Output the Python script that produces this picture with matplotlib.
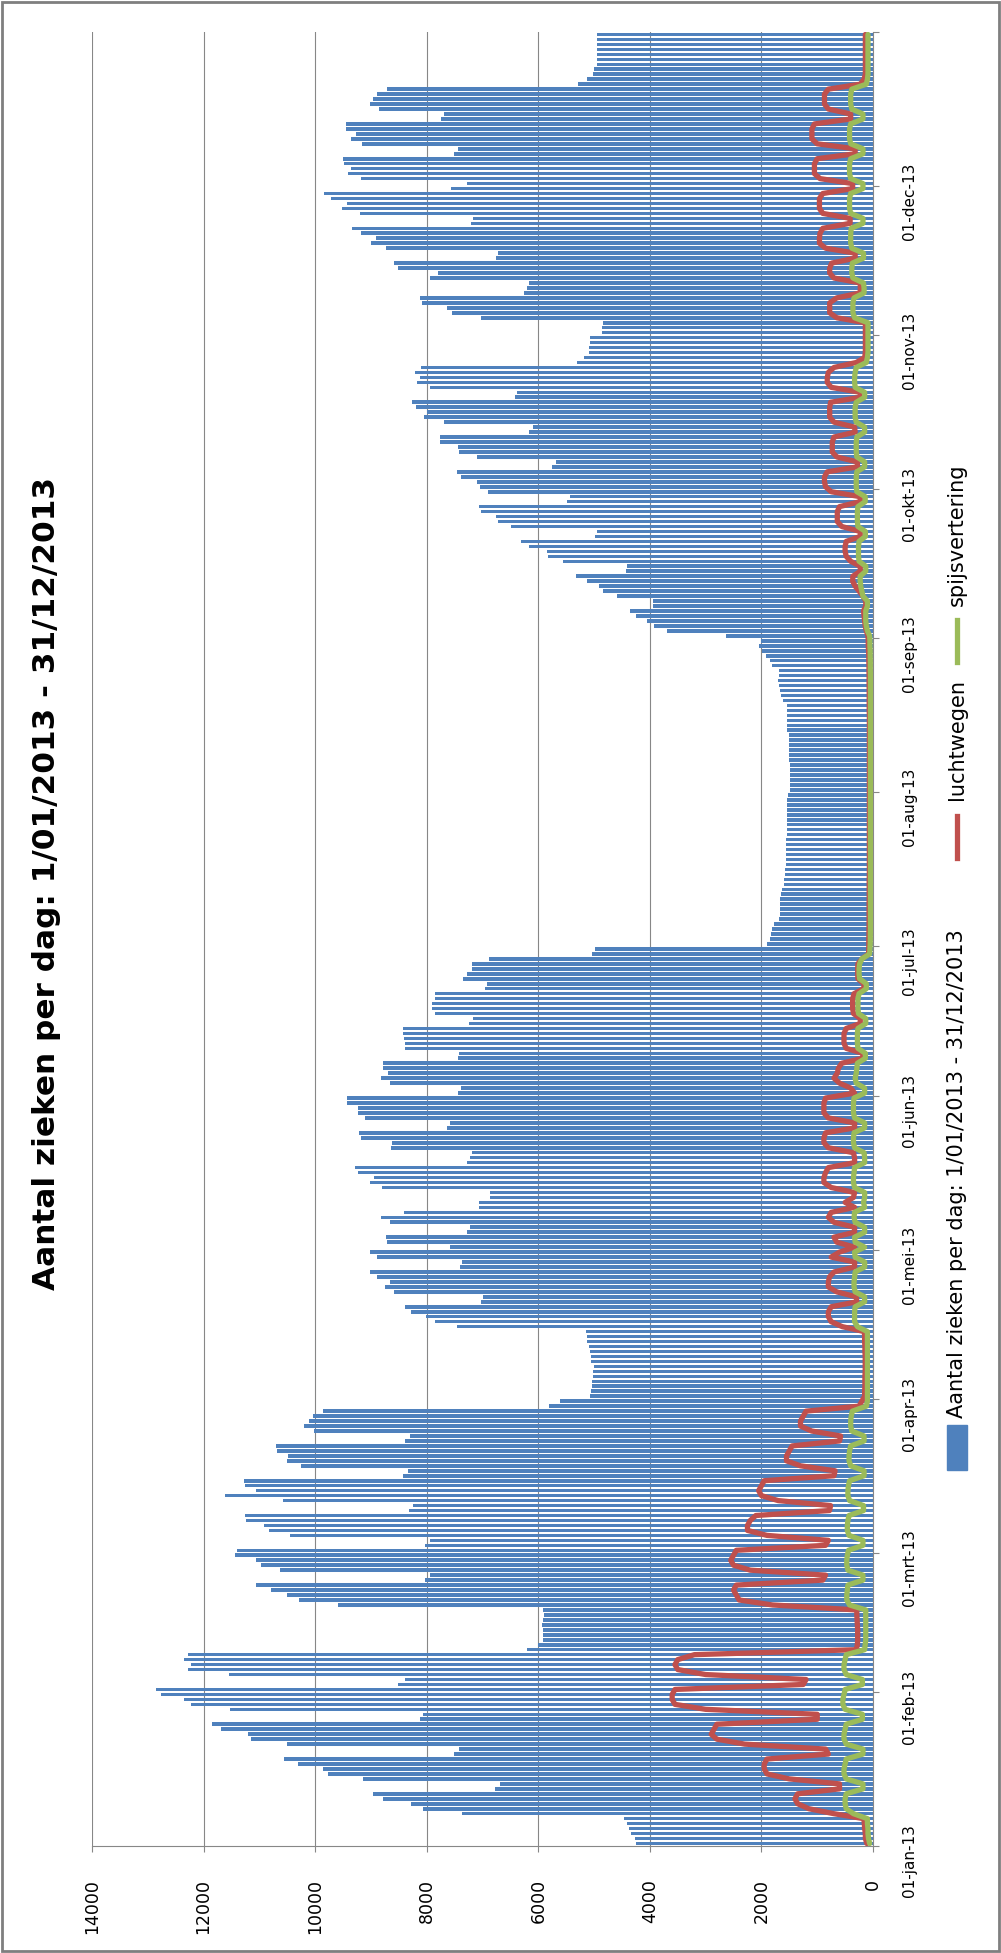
import numpy as np
import matplotlib.pyplot as plt
import matplotlib as mpl
from matplotlib.transforms import blended_transform_factory
from matplotlib.patches import Rectangle
from matplotlib.lines import Line2D

mpl.rcParams['font.family'] = 'DejaVu Sans'

BLUE = '#4F81BD'; RED = '#C0504D'; GREEN = '#9BBB59'; GRID = '#878787'

TITLE = 'Aantal zieken per dag: 1/01/2013 - 31/12/2013'
SERIES = ['Aantal zieken per dag: 1/01/2013 - 31/12/2013', 'luchtwegen', 'spijsvertering']
month_labels = ['01-jan-13', '01-feb-13', '01-mrt-13', '01-apr-13', '01-mei-13', '01-jun-13',
                '01-jul-13', '01-aug-13', '01-sep-13', '01-okt-13', '01-nov-13', '01-dec-13']
month_start = [0, 31, 59, 90, 120, 151, 181, 212, 243, 273, 304, 334]
value_ticks = [0, 2000, 4000, 6000, 8000, 10000, 12000, 14000]

# daily totals, 1 Jan .. 31 Dec 2013 (one line per month)
zieken = [
    4245, 4273, 4337, 4373, 4410, 4455, 7368, 8062, 8290, 8783, 8966, 6775, 6692, 9148, 9769, 9851, 10308, 10554, 7505, 7414, 10508, 11157, 11212, 11695, 11851, 8117, 8062, 11522, 12234, 12353, 12755,
    12846, 8509, 8381, 11549, 12271, 12234, 12353, 12271, 6199, 5998, 5907, 5907, 5907, 5925, 5907, 5889, 5907, 9587, 10290, 10500, 10792, 11056, 8034, 7943, 10636, 10974, 11066, 11440,
    11394, 8034, 7943, 10454, 10819, 10910, 11239, 11257, 8317, 8244, 10582, 11613, 11066, 11257, 11275, 8427, 8336, 10253, 10500, 10490, 10682, 10700, 8381, 8299, 10025, 10207, 10103, 10047, 9862, 5806, 5612,
    5074, 5047, 5037, 5037, 5028, 5028, 5010, 5047, 5056, 5074, 5084, 5121, 5121, 5139, 7464, 7852, 8019, 8288, 8390, 7019, 6991, 8593, 8741, 8667, 8899, 9010, 7399, 7371, 8899, 9010,
    7575, 8714, 8732, 7278, 7232, 8658, 8815, 8399, 7066, 7066, 6862, 6862, 8797, 9019, 8936, 9223, 9279, 7278, 7232, 7186, 8640, 8621, 9177, 9209, 7630, 7575, 9103, 9223, 9223, 9436, 9436,
    7445, 7389, 8658, 8815, 8700, 8792, 8792, 7441, 7413, 8381, 8381, 8400, 8427, 8427, 7240, 7167, 7852, 7897, 7897, 7852, 7852, 6957, 6911, 7350, 7277, 7194, 7185, 6884, 5040, 4976,
    1899, 1853, 1826, 1808, 1780, 1689, 1671, 1662, 1662, 1662, 1643, 1625, 1598, 1598, 1570, 1570, 1560, 1560, 1560, 1552, 1552, 1552, 1543, 1543, 1543, 1543, 1543, 1543, 1543, 1543, 1525,
    1479, 1479, 1479, 1479, 1479, 1479, 1507, 1507, 1507, 1507, 1507, 1507, 1534, 1534, 1534, 1534, 1534, 1534, 1616, 1643, 1671, 1689, 1707, 1689, 1689, 1808, 1853, 1917, 1981, 2036, 2009,
    2630, 3698, 3917, 4045, 4245, 4355, 3944, 3944, 4592, 4839, 4912, 5131, 5323, 4428, 4410, 5551, 5825, 5843, 6163, 6318, 4976, 4948, 6482, 6729, 6756, 7030, 7057, 5478, 5432, 6893,
    7048, 7094, 7377, 7459, 5752, 5688, 7094, 7413, 7441, 7760, 7760, 6163, 6099, 7697, 8053, 7989, 8190, 8263, 6418, 6373, 7943, 8171, 8126, 8217, 8107, 5314, 5177, 5085, 5085, 5067, 5067,
    4866, 4866, 4839, 7021, 7551, 7642, 8080, 8126, 6254, 6208, 6163, 7943, 7806, 8518, 8582, 6756, 6720, 8737, 8993, 8902, 9176, 9340, 7213, 7167, 9194, 9523, 9422, 9724, 9842, 7560,
    7286, 9176, 9404, 9358, 9477, 9495, 7514, 7441, 9158, 9358, 9267, 9441, 9441, 7742, 7688, 8856, 9020, 8966, 8884, 8719, 5295, 5131, 5022, 5003, 4948, 4948, 4948, 4948, 4948, 4948, 4948,
]

luchtwegen = [
    110, 137, 137, 150, 155, 165, 700, 1150, 1350, 1400, 1350, 600, 600, 1500, 1900, 1950, 1950, 1900, 800, 850, 2300, 2800, 2900, 2850, 2800, 1000, 1000, 3000, 3550, 3600, 3600,
    3550, 1250, 1200, 3000, 3500, 3550, 3500, 3200, 300, 280, 275, 275, 275, 280, 285, 290, 290, 1800, 2400, 2450, 2500, 2450, 900, 850, 2200, 2500, 2550, 2500,
    2450, 850, 800, 1900, 2250, 2250, 2200, 2100, 780, 760, 1700, 2000, 2050, 2000, 1950, 700, 680, 1300, 1550, 1550, 1500, 1450, 600, 580, 1100, 1300, 1300, 1250, 1200, 250, 200,
    150, 150, 145, 145, 145, 140, 140, 140, 140, 145, 145, 150, 150, 155, 550, 750, 800, 800, 750, 290, 300, 650, 800, 800, 780, 700, 330, 330, 750, 600,
    330, 650, 700, 330, 330, 700, 800, 750, 330, 500, 350, 330, 750, 880, 880, 850, 800, 330, 330, 350, 800, 880, 880, 850, 330, 330, 800, 880, 880, 880, 850,
    330, 400, 600, 700, 640, 620, 560, 183, 183, 480, 520, 520, 520, 480, 228, 228, 350, 365, 365, 365, 340, 164, 164, 270, 274, 274, 270, 200, 80, 75,
    75, 75, 72, 72, 70, 70, 70, 70, 70, 68, 68, 68, 68, 68, 65, 65, 65, 65, 65, 65, 65, 65, 65, 65, 65, 65, 65, 65, 65, 65, 65,
    65, 65, 65, 65, 65, 65, 65, 65, 65, 65, 65, 65, 65, 65, 65, 65, 68, 68, 68, 68, 68, 70, 70, 70, 72, 72, 75, 75, 80, 85, 85,
    90, 120, 140, 150, 160, 170, 130, 130, 180, 250, 320, 365, 360, 228, 228, 400, 480, 500, 500, 480, 228, 228, 560, 640, 640, 640, 600, 228, 228, 750,
    850, 870, 870, 820, 280, 280, 650, 730, 730, 730, 700, 320, 330, 700, 776, 776, 776, 760, 228, 228, 750, 820, 820, 800, 700, 300, 150, 137, 137, 137, 137,
    137, 137, 137, 650, 776, 776, 776, 650, 228, 228, 228, 700, 776, 776, 740, 320, 320, 850, 960, 960, 950, 900, 410, 410, 900, 960, 960, 960, 900, 365,
    365, 950, 1050, 1050, 1050, 1000, 320, 320, 1000, 1095, 1095, 1095, 1050, 400, 400, 800, 870, 870, 870, 800, 228, 160, 137, 137, 137, 137, 137, 137, 137, 137, 137,
]

spijsvertering = [
    60, 80, 90, 90, 100, 100, 350, 480, 500, 500, 480, 180, 180, 480, 520, 520, 500, 480, 180, 180, 480, 520, 520, 500, 480, 190, 190, 500, 540, 540, 520,
    500, 190, 190, 480, 520, 520, 500, 480, 150, 140, 130, 130, 130, 130, 130, 130, 130, 420, 470, 470, 460, 450, 180, 180, 450, 470, 470, 460,
    440, 180, 180, 430, 460, 460, 450, 430, 170, 170, 420, 450, 450, 440, 420, 160, 160, 400, 430, 430, 420, 400, 160, 160, 380, 400, 400, 390, 370, 120, 100,
    100, 100, 100, 100, 100, 100, 100, 100, 100, 100, 100, 100, 100, 100, 280, 330, 330, 330, 320, 150, 150, 320, 340, 340, 330, 320, 150, 150, 320, 330,
    150, 320, 330, 150, 150, 320, 340, 330, 150, 170, 150, 150, 330, 350, 350, 340, 330, 150, 150, 160, 330, 350, 350, 340, 150, 150, 330, 350, 350, 350, 340,
    150, 150, 300, 320, 300, 290, 280, 137, 137, 270, 280, 280, 280, 270, 130, 130, 260, 270, 270, 270, 250, 120, 120, 240, 250, 250, 240, 200, 60, 55,
    50, 48, 48, 46, 46, 45, 45, 45, 45, 45, 45, 45, 45, 45, 45, 45, 45, 45, 45, 45, 45, 45, 45, 45, 45, 45, 45, 45, 45, 45, 45,
    45, 45, 45, 45, 45, 45, 45, 45, 45, 45, 45, 45, 45, 45, 45, 45, 45, 45, 45, 45, 45, 46, 46, 46, 48, 48, 48, 50, 50, 55, 55,
    60, 100, 120, 130, 130, 130, 100, 100, 180, 200, 220, 230, 230, 130, 130, 250, 260, 260, 260, 250, 137, 137, 270, 280, 280, 280, 270, 140, 140, 290,
    300, 300, 300, 290, 150, 150, 290, 300, 300, 300, 290, 150, 150, 300, 320, 320, 320, 300, 150, 150, 320, 330, 330, 320, 300, 120, 100, 90, 90, 90, 90,
    90, 90, 90, 330, 360, 360, 360, 340, 160, 160, 170, 360, 380, 380, 370, 170, 170, 380, 400, 400, 400, 390, 180, 180, 400, 420, 420, 420, 400, 180,
    180, 400, 420, 420, 420, 400, 180, 180, 400, 420, 420, 420, 400, 180, 180, 380, 400, 400, 400, 380, 120, 100, 90, 90, 90, 90, 90, 90, 90, 90, 90,
]

days = np.arange(len(zieken))
end = len(zieken) - 0.5

fig = plt.figure(figsize=(10.01, 19.53), dpi=100)
# plot area: 0 at x=873px, 14000 at x=92px; 1 jan at bottom (1846px), 31 dec at top (32px)
ax = fig.add_axes([92/1001, 1-1846/1953, 781/1001, 1814/1953])

ax.barh(days, zieken, height=0.72, color=BLUE, linewidth=0, zorder=2)
ax.plot(luchtwegen, days, color=RED, lw=3.8, solid_joinstyle='round', solid_capstyle='round', zorder=3)
ax.plot(spijsvertering, days, color=GREEN, lw=3.8, solid_joinstyle='round', solid_capstyle='round', zorder=4)

ax.set_xlim(14000, 0)
ax.set_ylim(-0.5, end)
ax.set_xticks(value_ticks)
ax.set_xticklabels([str(v) for v in value_ticks], rotation=90, fontsize=12.5)
ax.grid(axis='x', color=GRID, lw=0.8, zorder=0)
ax.set_axisbelow(True)

for s in ['top', 'left']:
    ax.spines[s].set_visible(False)
for s in ['right', 'bottom']:
    ax.spines[s].set_color(GRID)
    ax.spines[s].set_linewidth(0.8)

ax.tick_params(axis='x', direction='out', length=4, width=0.8, color=GRID, pad=20, labelcolor='black')
ax.yaxis.tick_right()
ax.set_yticks([m - 0.5 for m in month_start] + [end])
ax.set_yticklabels([])
ax.tick_params(axis='y', direction='out', length=4, width=0.8, color=GRID)

# date labels (rotated, right of the category axis)
tr = blended_transform_factory(ax.transAxes, ax.transData)
for m, lab in zip(month_start, month_labels):
    ax.text(1.047, m - 3.5, lab, transform=tr, rotation=90, ha='center', va='center', fontsize=11)

fig.text(47/1001, 1 - 884/1953, TITLE, rotation=90, ha='center', va='center', fontsize=22.4, fontweight='bold')

# legend (rotated, right side)
lx = 957/1001
def fy(px):
    return 1 - px/1953
fig.patches.append(Rectangle((lx - 10/1001, fy(1470)), 20/1001, 45/1953, transform=fig.transFigure,
                             color=BLUE, figure=fig))
fig.text(lx, fy(1418), SERIES[0], rotation=90, ha='center', va='bottom', fontsize=15)
fig.lines.append(Line2D([lx, lx], [fy(858), fy(816)], transform=fig.transFigure, color=RED, lw=3.8))
fig.text(lx, fy(800), SERIES[1], rotation=90, ha='center', va='bottom', fontsize=15)
fig.lines.append(Line2D([lx, lx], [fy(662), fy(620)], transform=fig.transFigure, color=GREEN, lw=3.8))
fig.text(lx, fy(606), SERIES[2], rotation=90, ha='center', va='bottom', fontsize=15)

# chart area border
fig.patches.append(Rectangle((0.002, 0.001), 0.996, 0.998, transform=fig.transFigure,
                             fill=False, edgecolor='#7f7f7f', lw=2, figure=fig))

fig.savefig('out.png', dpi=100)
